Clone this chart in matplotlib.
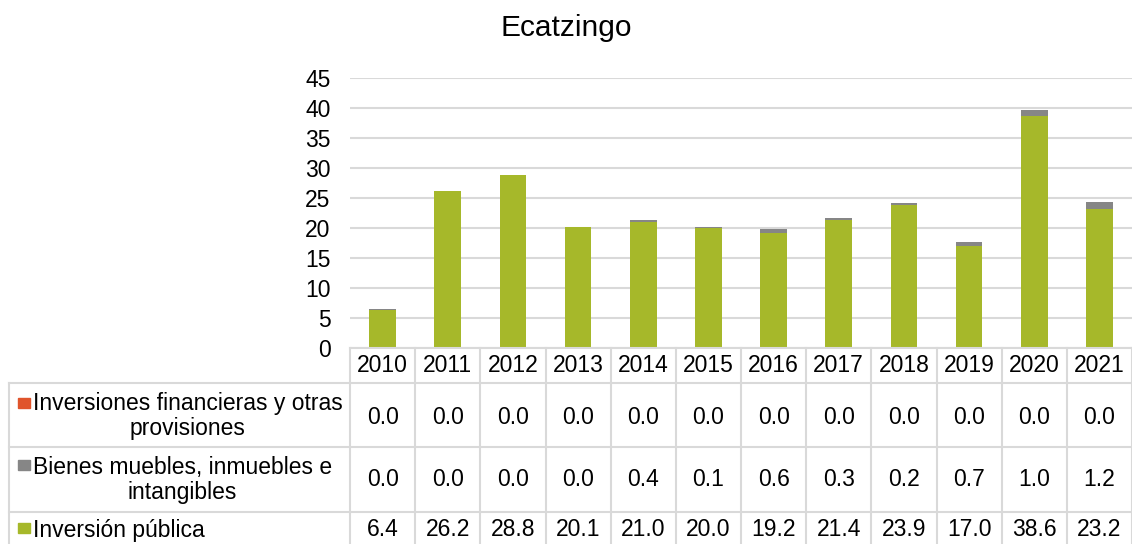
import matplotlib
matplotlib.use('Agg')
import matplotlib.pyplot as plt
import matplotlib.transforms as mtransforms
from matplotlib.patches import Rectangle

plt.rcParams['font.family'] = ['Liberation Sans', 'DejaVu Sans']

# data
years = ['2010', '2011', '2012', '2013', '2014', '2015', '2016', '2017', '2018', '2019', '2020', '2021']
inversion_publica = [6.4, 26.2, 28.8, 20.1, 21.0, 20.0, 19.2, 21.4, 23.9, 17.0, 38.6, 23.2]
bienes_muebles = [0.04, 0.0, 0.0, 0.04, 0.4, 0.1, 0.6, 0.3, 0.2, 0.7, 1.0, 1.2]
inversiones_fin = [0.0] * 12
series_labels = ['Inversiones financieras y otras\nprovisiones',
                 'Bienes muebles, inmuebles e\nintangibles',
                 'Inversión pública']
title = 'Ecatzingo'
yticks = [0, 5, 10, 15, 20, 25, 30, 35, 40, 45]

c_green = '#A6B82A'
c_gray = '#868686'
c_orange = '#E0542B'
c_grid = '#D9D9D9'
fs = 16.5

W, H = 1132, 544
fig = plt.figure(figsize=(W / 100, H / 100), dpi=100)

def fx(x):
    return x / W

def fy(y):
    return 1 - y / H

ax = fig.add_axes([fx(350), fy(348), fx(1132) - fx(350), fy(78) - fy(348)])
x = list(range(len(years)))
ax.bar(x, inversion_publica, width=0.41, color=c_green, zorder=3)
ax.bar(x, bienes_muebles, width=0.41, bottom=inversion_publica, color=c_gray, zorder=3)
bot2 = [a + b for a, b in zip(inversion_publica, bienes_muebles)]
ax.bar(x, inversiones_fin, width=0.41, bottom=bot2, color=c_orange, zorder=3)

ax.set_xlim(-0.5, len(years) - 0.5)
ax.set_ylim(0, 45)
ax.set_yticks(yticks)
ax.set_xticks([])
ax.tick_params(axis='y', length=0, pad=14, labelsize=fs)
ax.grid(axis='y', color=c_grid, linewidth=1.5, zorder=0)
for s in ax.spines.values():
    s.set_visible(False)

fig.text(0.5, fy(36), title, ha='center', va='baseline', fontsize=21.5)

# data table
bt = mtransforms.blended_transform_factory(ax.transData, fig.transFigure)
lw = 1.5
rows_y = [383, 447, 512, 548]

# header
fig.add_artist(plt.Line2D([-0.5, len(years) - 0.5], [fy(348)] * 2, transform=bt,
                          color=c_grid, lw=lw, clip_on=False))
for i in range(len(years) + 1):
    fig.add_artist(plt.Line2D([i - 0.5] * 2, [fy(348), fy(548)], transform=bt,
                              color=c_grid, lw=lw, clip_on=False))
for i, yr in enumerate(years):
    fig.text(i, fy(366), yr, transform=bt, ha='center', va='center', fontsize=fs)

# row lines
for yy in rows_y[:3]:
    fig.add_artist(plt.Line2D([fx(9), 1.0], [fy(yy)] * 2, color=c_grid, lw=lw))
fig.add_artist(plt.Line2D([fx(9)] * 2, [fy(383), fy(548)], color=c_grid, lw=lw))

row_vals = [inversiones_fin, bienes_muebles, inversion_publica]
row_cols = [c_orange, c_gray, c_green]
text_y = [416, 480, 530]
val_y = [417, 480, 530]
marker_y = [403, 465, 528]
for r in range(3):
    fig.add_artist(Rectangle((fx(18), fy(marker_y[r] + 5)), fx(12), 10 / H,
                             transform=fig.transFigure, color=row_cols[r]))
    fig.text(fx(33), fy(text_y[r]), series_labels[r], ha='left', va='center',
             multialignment='center', fontsize=fs, linespacing=1.1)
    for i, v in enumerate(row_vals[r]):
        fig.text(i, fy(val_y[r]), f'{v:.1f}', transform=bt, ha='center', va='center',
                 fontsize=fs)

fig.savefig('out.png', dpi=100)
